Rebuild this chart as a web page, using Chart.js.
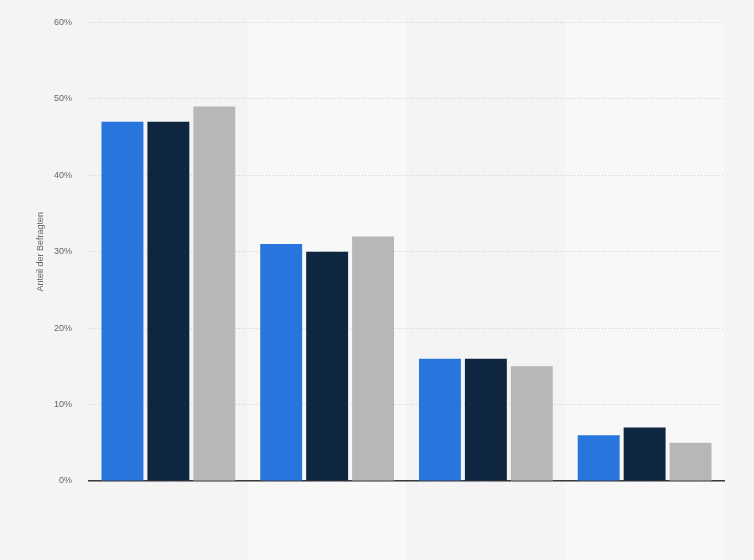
<!DOCTYPE html>
<html>
<head>
<meta charset="utf-8">
<script src="https://cdn.jsdelivr.net/npm/chart.js@4.4.1/dist/chart.umd.min.js"></script>
<style>
  html, body { margin: 0; padding: 0; background: #f4f4f4; }
  #wrap { width: 754px; height: 560px; position: relative; }
</style>
</head>
<body>
<div id="wrap"><canvas id="myChart"></canvas></div>
<script>
// data
const categories = ["Gruppe 1", "Gruppe 2", "Gruppe 3", "Gruppe 4"]
const serieA = [47, 31, 16, 6]
const serieB = [47, 30, 16, 7]
const serieC = [49, 32, 15, 5]
const yTicks = [0, 10, 20, 30, 40, 50, 60]

const ctx = document.getElementById('myChart')

// background + alternating column bands
const bands = {
  id: "bands",
  beforeDraw(chart) {
    const c = chart.ctx
    const area = chart.chartArea
    const x = chart.scales.x
    c.save()
    c.fillStyle = "#f4f4f4"
    c.fillRect(0, 0, chart.width, chart.height)
    const w = (area.right - area.left) / categories.length
    c.fillStyle = "#f8f8f8"
    categories.forEach((cat, i) => {
      if (i % 2 === 1) {
        const cx = x.getPixelForValue(i)
        c.fillRect(cx - w / 2, area.top - 2, w, chart.height - area.top + 2)
      }
    })
    c.restore()
  }
}

const myChart = new Chart(ctx, {
  type: "bar",
  data: {
    labels: categories,
    datasets: [
      { data: serieA, backgroundColor: "#2876dd", categoryPercentage: 0.868, barPercentage: 0.913 },
      { data: serieB, backgroundColor: "#0f2640", categoryPercentage: 0.868, barPercentage: 0.913 },
      { data: serieC, backgroundColor: "#b7b7b7", categoryPercentage: 0.868, barPercentage: 0.913 }
    ]
  },
  options: {
    responsive: true,
    maintainAspectRatio: false,
    animation: false,
    layout: { padding: { top: 19, right: 30, left: 0, bottom: 0 } },
    plugins: {
      legend: { display: false },
      tooltip: { enabled: false }
    },
    scales: {
      x: {
        ticks: { display: false },
        grid: { display: false, drawTicks: false },
        border: { display: true, color: "#3a3a3a", width: 1.5 },
        afterFit: s => { s.height = 79 }
      },
      y: {
        min: 0,
        max: 60,
        afterBuildTicks: s => { s.ticks = yTicks.map(v => ({ value: v })) },
        ticks: {
          padding: 17,
          color: "#666666",
          font: { family: "'Liberation Sans', Arial, sans-serif", size: 9 },
          callback: v => v + "%"
        },
        grid: { color: "#cfcfcf", drawTicks: false, lineWidth: 1 },
        border: { display: false, dash: [1, 2] },
        title: {
          display: true,
          text: "Anteil der Befragten",
          color: "#666666",
          font: { family: "'Liberation Sans', Arial, sans-serif", size: 9 },
          padding: { top: 35, bottom: 0 }
        },
        afterFit: s => { s.width = 89 }
      }
    }
  },
  plugins: [bands]
})
</script>
</body>
</html>
